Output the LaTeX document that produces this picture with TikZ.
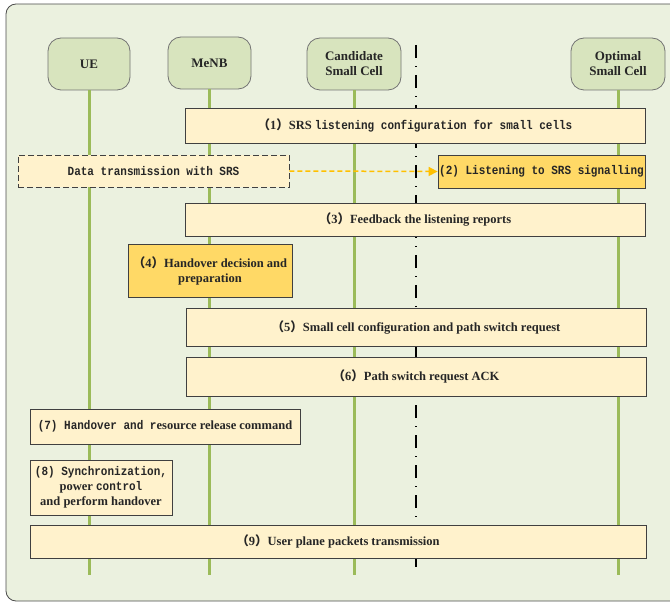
\documentclass[tikz,border=0pt]{standalone}
\usepackage{fontspec}
\setmainfont{Liberation Serif}
\setmonofont[FakeStretch=0.88]{Liberation Mono}
\newfontfamily\cjk{Noto Sans CJK SC}
\usetikzlibrary{arrows.meta}

\definecolor{bggreen}{HTML}{EBF1DF}
\definecolor{hdgreen}{HTML}{D8E4BE}
\definecolor{lifegreen}{HTML}{9BBB59}
\definecolor{msgyellow}{HTML}{FFF2CC}
\definecolor{gold}{HTML}{FFD966}
\definecolor{arrgold}{HTML}{FFC000}
\definecolor{txt}{HTML}{262626}

\newcommand{\lpar}{{\cjk （}}
\newcommand{\rpar}{{\cjk ）}}
\newcommand{\mono}[1]{{\ttfamily\bfseries #1}}

\tikzset{
  actor/.style={draw=black!55, fill=hdgreen, rounded corners=13pt, line width=0.8pt,
    minimum height=52pt, inner sep=0pt, align=center, text=txt,
    font=\fontsize{13}{15}\selectfont\bfseries},
  msg/.style={draw=black!75, fill=msgyellow, line width=0.8pt, inner sep=0pt,
    align=center, text=txt, font=\fontsize{12.5}{15}\selectfont\bfseries},
  decide/.style={msg, fill=gold},
  life/.style={lifegreen, line width=3pt},
}

\begin{document}
\begin{tikzpicture}[x=1pt,y=-1pt]
\clip (0,0) rectangle (670,604);
\draw[black!70, fill=bggreen, rounded corners=10pt, line width=0.8pt] (6,4) rectangle (700,601);

% entities
\node[actor, minimum width=82pt] (ue) at (89,64) {UE};
\node[actor, minimum width=83pt] (menb) at (209.5,63) {MeNB};
\node[actor, minimum width=94pt] (cand) at (354,64) {Candidate\\Small Cell};
\node[actor, minimum width=94pt] (opt) at (618,64) {Optimal\\Small Cell};

% lifelines
\coordinate (ueend) at (89,575);
\coordinate (menbend) at (209.5,575);
\coordinate (candend) at (354,575);
\coordinate (optend) at (618,575);
\draw[life] (ue.south) -- (ueend);
\draw[life] (menb.south) -- (menbend);
\draw[life] (cand.south) -- (candend);
\draw[life] (opt.south) -- (optend);

% separator
\coordinate (septop) at (416,45);
\coordinate (sepbot) at (416,567);
\draw[black, line width=1.2pt, dash pattern=on 13pt off 8pt on 1pt off 8pt] (septop) -- (sepbot);

% steps
\node[msg, minimum width=460pt, minimum height=35pt] (s1) at (415,125.5)
  {\lpar1\rpar SRS \mono{listening configuration for small cells}};
\node[msg, dashed, dash pattern=on 6pt off 3pt, minimum width=271pt, minimum height=32pt] (data) at (153.5,171)
  {\mono{Data transmission with SRS}};
\node[decide, minimum width=207pt, minimum height=33pt] (s2) at (541.5,171.5)
  {\mono{(2) Listening to SRS signalling}};
\draw[arrgold, line width=1.5pt, dash pattern=on 5pt off 3pt, -{Triangle[length=9pt,width=9pt]}] (data.east) -- (s2.west);
\node[msg, minimum width=460pt, minimum height=33pt] (s3) at (415,219.5)
  {\lpar3\rpar Feedback the listening reports};
\node[decide, minimum width=164pt, minimum height=53pt] (s4) at (210,270.5)
  {\lpar4\rpar Handover decision and\\preparation};
\node[msg, minimum width=460pt, minimum height=38pt] (s5) at (416,327)
  {\lpar5\rpar Small cell configuration and path switch request};
\node[msg, minimum width=460pt, minimum height=39pt] (s6) at (416,376.5)
  {\lpar6\rpar Path switch request ACK};
\node[msg, minimum width=270pt, minimum height=35pt] (s7) at (165,426.5)
  {\mono{(7) Handover and r}esource release command};
\node[msg, minimum width=142pt, minimum height=55pt] (s8) at (101,487.5)
  {\mono{(8) Synchronization,}\\power \mono{control}\\and perform handover};
\node[msg, minimum width=616pt, minimum height=33pt] (s9) at (338,541.5)
  {\lpar9\rpar User plane packets transmission};
\end{tikzpicture}
\end{document}
